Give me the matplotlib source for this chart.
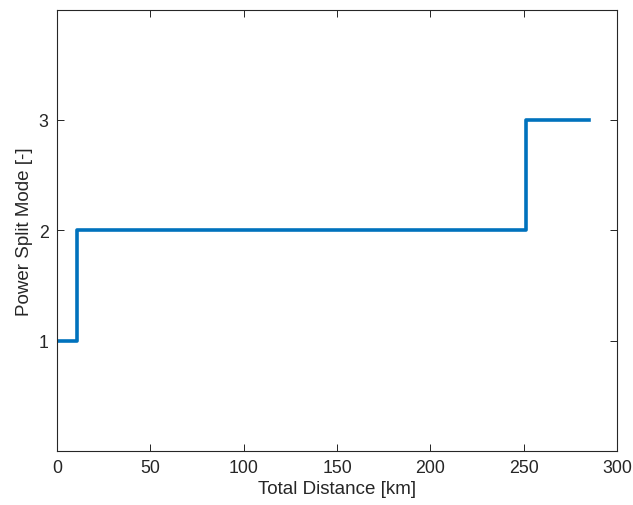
import matplotlib.pyplot as plt

plt.rcParams['font.family'] = ['Liberation Sans', 'DejaVu Sans']

# Power split mode over distance (step changes)
distance = [0, 10.7, 251, 285]
mode = [1, 2, 3, 3]

fig = plt.figure(figsize=(6.33, 5.06), dpi=100)
ax = fig.add_axes([0.090, 0.107, 0.885, 0.872])

ax.step(distance, mode, where='post', color='#0072BD', linewidth=2.6)

ax.set_xlim(0, 300)
ax.set_ylim(0, 4)
ax.set_xticks([0, 50, 100, 150, 200, 250, 300])
ax.set_yticks([1, 2, 3])

ax.set_xlabel('Total Distance [km]', fontsize=13.5, color='#262626', labelpad=3)
ax.set_ylabel('Power Split Mode [-]', fontsize=13.5, color='#262626', labelpad=4)

ax.tick_params(direction='in', top=True, right=True, labelsize=12.8,
               labelcolor='#262626', length=5, width=0.6, pad=6)
for s in ax.spines.values():
    s.set_linewidth(0.8)
    s.set_color('#262626')

fig.savefig('out.png', dpi=100)
